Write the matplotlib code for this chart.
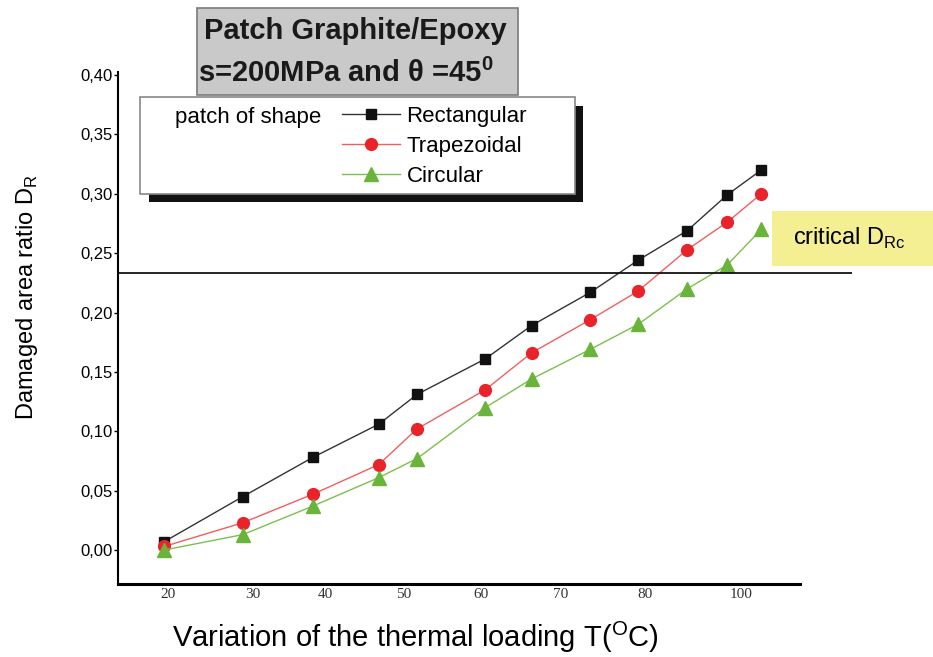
import matplotlib.pyplot as plt
from matplotlib.patches import Rectangle

# temperature (axis units)
temp = [19.5, 29.4, 38.2, 46.5, 51.3, 59.9, 65.7, 73.1, 79.1, 85.3, 90.3, 94.6]

rect = [0.007, 0.045, 0.078, 0.106, 0.131, 0.161, 0.189, 0.217, 0.244, 0.269, 0.299, 0.320]
trap = [0.003, 0.023, 0.047, 0.072, 0.102, 0.135, 0.166, 0.194, 0.218, 0.253, 0.276, 0.300]
circ = [0.000, 0.013, 0.037, 0.061, 0.077, 0.120, 0.144, 0.169, 0.190, 0.220, 0.240, 0.270]

xtick_pos = [20, 30.6, 39.8, 49.6, 59.3, 69.4, 80, 92]
xtick_lab = ['20', '30', '40', '50', '60', '70', '80', '100']
ytick_pos = [0.00, 0.05, 0.10, 0.15, 0.20, 0.25, 0.30, 0.35, 0.40]
critical = 0.233

plt.rcParams['font.family'] = ['Liberation Sans', 'DejaVu Sans']

W, H = 933, 657
fig = plt.figure(figsize=(W / 100, H / 100), dpi=100)
ax = fig.add_axes([118 / W, 1 - 584 / H, (852 - 118) / W, (584 - 72) / H])

l1, = ax.plot(temp, rect, color='#333333', lw=1, marker='s', ms=7, mfc='#111111', mec='#111111')
l2, = ax.plot(temp, trap, color='#f06060', lw=1, marker='o', ms=8.5, mfc='#e8242a', mec='#e8242a')
l3, = ax.plot(temp, circ, color='#7cc04c', lw=1, marker='^', ms=9.5, mfc='#6ab43c', mec='#6ab43c')

ax.axhline(critical, color='#111111', lw=1.3)

ax.set_xlim(13.7, 106)
ax.set_ylim(-0.0286, 0.4025)

ax.set_yticks(ytick_pos)
ax.set_yticklabels([('%.2f' % v).replace('.', ',') for v in ytick_pos], fontsize=12)
ax.tick_params(axis='y', direction='out', length=3, width=1, pad=1)
ax.set_xticks(xtick_pos)
ax.set_xticklabels(xtick_lab, fontsize=11, family='Liberation Serif', color='#333333')
ax.tick_params(axis='x', length=0, pad=3)

for s in ['top', 'right']:
    ax.spines[s].set_visible(False)
ax.spines['left'].set_linewidth(1.5)
ax.spines['bottom'].set_linewidth(2.2)
ax.spines['bottom'].set_bounds(13.7, 99.5)

ax.set_ylabel('Damaged area ratio D$_\\mathregular{R}$', fontsize=17)
ax.yaxis.set_label_coords(-0.106, 0.56)
fig.text(172 / W, 1 - 637 / H, 'Variation of the thermal loading T($^\\mathregular{O}$C)',
         fontsize=21, va='center', ha='left')

# title box
fig.patches.append(Rectangle((197 / W, 1 - 95 / H), (518 - 197) / W, (95 - 8) / H,
                             transform=fig.transFigure, facecolor='#c9c9c9', edgecolor='#7a7a7a', lw=1.2))
fig.text(204 / W, 1 - 31 / H, 'Patch Graphite/Epoxy', fontsize=21, fontweight='bold', va='center', color='#1a1a1a')
fig.text(198 / W, 1 - 73 / H, 's=200MPa and θ =45$^\\mathregular{0}$', fontsize=21, fontweight='bold',
         va='center', color='#1a1a1a')

# legend box with shadow
fig.patches.append(Rectangle((149 / W, 1 - 202 / H), (583 - 149) / W, (202 - 106) / H,
                             transform=fig.transFigure, facecolor='#111111', edgecolor='none'))
fig.patches.append(Rectangle((140 / W, 1 - 194 / H), (575 - 140) / W, (194 - 97) / H,
                             transform=fig.transFigure, facecolor='white', edgecolor='#888888', lw=1.2))
fig.text(175 / W, 1 - 118 / H, 'patch of shape', fontsize=16, va='center', zorder=5)
leg = fig.legend([l1, l2, l3], ['Rectangular', 'Trapezoidal', 'Circular'],
                 loc='upper left', bbox_to_anchor=(342 / W, 1 - 106 / H),
                 frameon=False, fontsize=16, handlelength=2.6, handletextpad=0.3, labelspacing=0.4,
                 borderpad=0, borderaxespad=0)
leg.set_zorder(5)

# critical label
fig.patches.append(Rectangle((772 / W, 1 - 266 / H), (933 - 772) / W, (266 - 211) / H,
                             transform=fig.transFigure, facecolor='#f3ef92', edgecolor='none'))
fig.text(793 / W, 1 - 238 / H, 'critical D$_\\mathregular{Rc}$', fontsize=17, va='center')

fig.savefig('out.png', dpi=100)
